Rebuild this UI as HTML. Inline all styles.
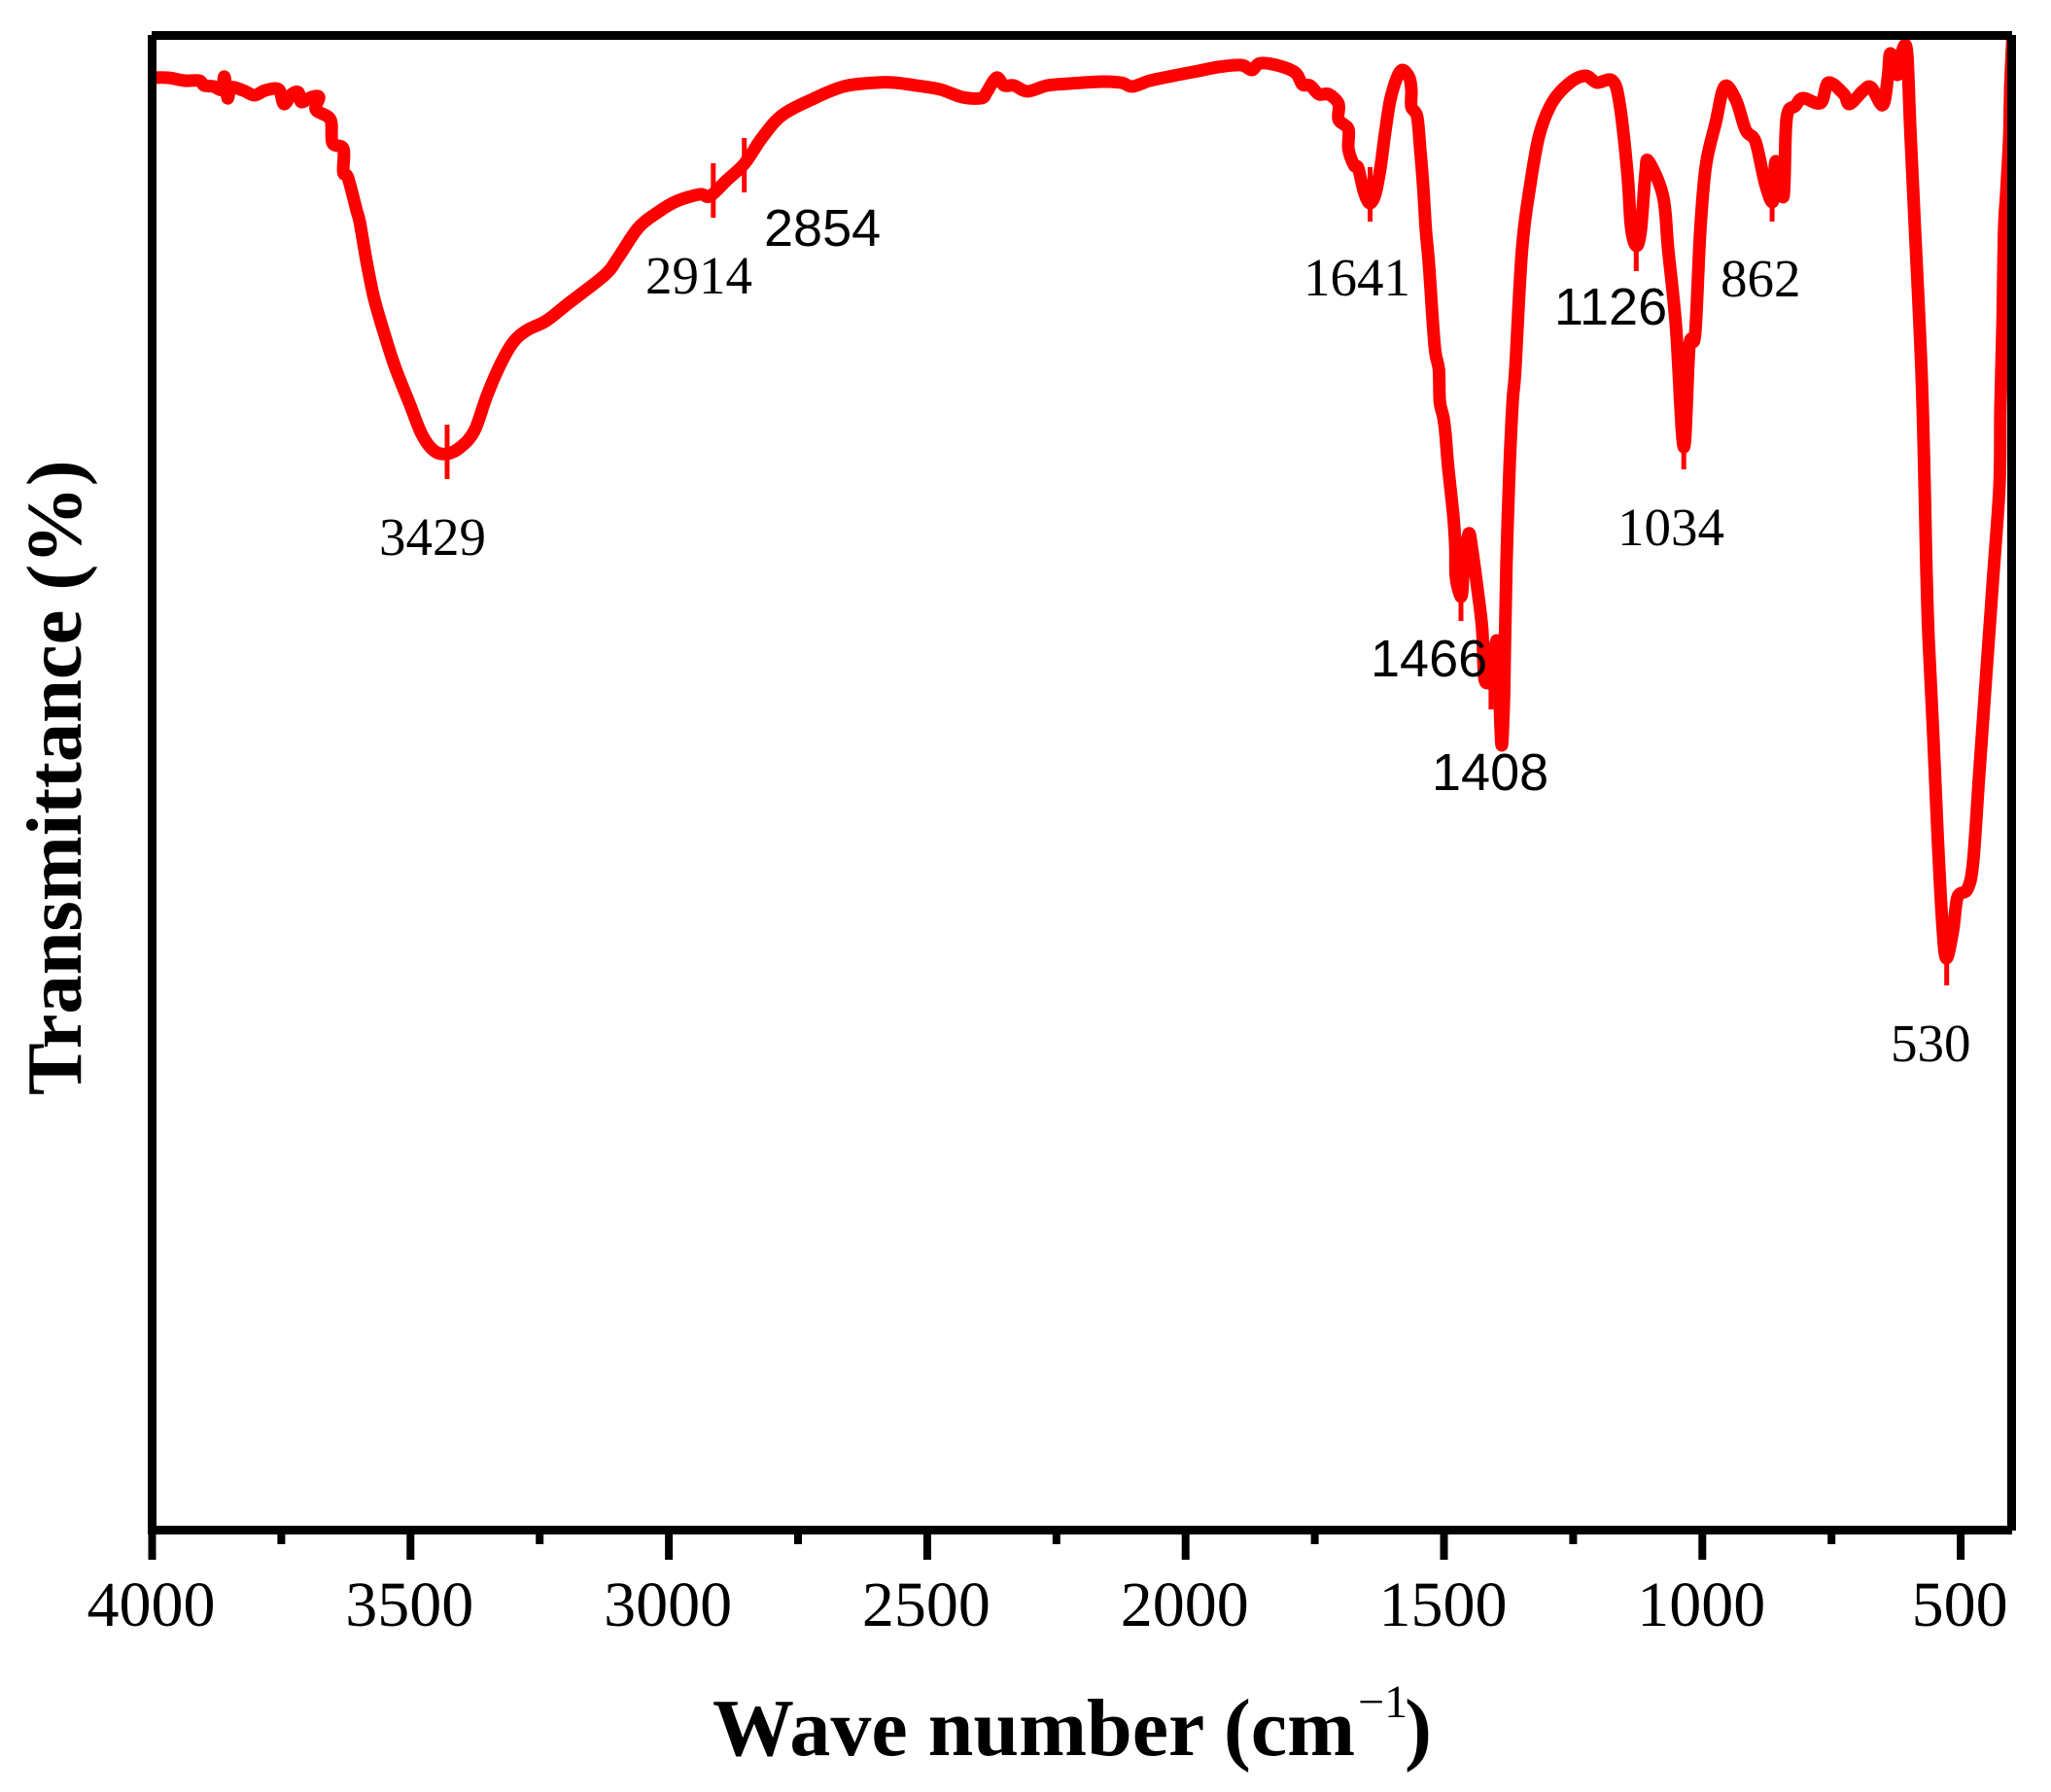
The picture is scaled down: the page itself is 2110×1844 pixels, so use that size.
<!DOCTYPE html>
<html lang="en">
<head>
<meta charset="utf-8">
<title>FTIR transmittance spectrum</title>
<style>
html,body{margin:0;padding:0;background:#fff;}
svg{display:block;}
.serif{font-family:"Liberation Serif",serif;}
.sans{font-family:"Liberation Sans",sans-serif;}
</style>
</head>
<body>
<svg id="chart" xmlns="http://www.w3.org/2000/svg" width="2110" height="1844" viewBox="0 0 2110 1844">
  <defs>
    <clipPath id="plot-clip"><rect x="156" y="36" width="1914" height="1539"/></clipPath>
  </defs>
  <rect x="0" y="0" width="2110" height="1844" fill="#fff"/>
  <g id="series-layer" clip-path="url(#plot-clip)"></g>
  <g id="frame" fill="#000">
    <rect x="156" y="32" width="1914" height="9"/>
    <rect x="152" y="36" width="9" height="1543"/>
    <rect x="2065" y="36" width="9" height="1539"/>
    <rect x="156" y="1570" width="1914" height="9"/>
  </g>
  <g id="tick-layer"></g>
  <g fill="#000" font-size="55">
    <text class="serif" x="390" y="571">3429</text>
    <text class="serif" x="664" y="302">2914</text>
    <text class="sans" x="786" y="253" font-size="54">2854</text>
    <text class="serif" x="1341" y="304">1641</text>
    <text class="sans" x="1599" y="334" font-size="54">1126</text>
    <text class="serif" x="1770" y="305">862</text>
    <text class="serif" x="1664" y="561">1034</text>
    <text class="sans" x="1410" y="696" font-size="54">1466</text>
    <text class="sans" x="1473" y="813" font-size="54">1408</text>
    <text class="serif" x="1945" y="1092">530</text>
  </g>
  <text class="serif" x="733" y="1806" font-size="84" font-weight="bold" fill="#000">Wave number (cm</text>
  <text class="serif" x="1397" y="1767" font-size="48" fill="#000">−1</text>
  <text class="serif" x="1445" y="1806" font-size="84" font-weight="bold" fill="#000">)</text>
  <text class="serif" transform="translate(83 1127) rotate(-90)" x="0" y="0" font-size="80.5" font-weight="bold" fill="#000">Transmittance (%)</text>
</svg>
<script>
// Wavenumbers (cm-1) along the measured spectrum
const waveNumbers = [
4000,3969,3937,3909,3899,3881,3865,3860,3854,3847,3824,3802,3781,3755,3745,3730,3717,3711,3692,3677,3683,3655,3651,3630,3630,3621,3604,3598,3585,3570,3548,3529,3502,3478,3454,3429,3403,3376,3352,3326,3301,3275,3237,3194,3124,3098,3060,3023,2985,2940,2921,2889,2853,2820,2782,2726,2662,2598,2564,2521,2475,2432,2395,2385,2366,2351,2332,2306,2268,2225,2163,2125,2103,2069,2024,1975,1937,1892,1872,1855,1817,1787,1774,1759,1742,1723,1704,1704,1685,1685,
1674,1666,1655,1644,1633,1623,1614,1604,1591,1580,1567,1563,1563,1552,1546,1540,1535,1529,1518,1510,1508,1501,1497,1492,1482,1478,1477,1469,1465,1461,1452,1445,1435,1426,1422,1413,1407,1401,1396,1392,1388,1384,1382,1379,1373,1367,1362,1349,
1333,1315,1290,1256,1226,1204,1174,1160,1145,1138,1128,1119,1110,1104,1076,1066,1051,1036,1025,1014,1004,993,974,957,935,916,897,878,863,858,843,837,820,805,771,756,726,715,688,673,651,641,636,622,613,604,598,590,575,566,562,553,545,536,528,515,506,487,476,464,451,438,425,423,419,416,412,406,404,400
];
// Transmittance read at each wavenumber (arbitrary-scale percent units)
const transmittance = [
149.5,149.5,149.2,149.2,148.7,148.6,148.3,149.6,147.4,148.5,148.2,147.7,148.2,148.3,146.8,147.8,148,147,147.5,147.5,146.2,145.2,142.8,142.2,139.8,139.2,135.8,134.6,130.6,126.7,122.7,119.6,116,112.8,111.1,110.8,111.5,113.2,116.8,120,122.3,123.5,124.5,126.3,129.2,131,134,135.6,136.8,137.5,137.3,138.9,140.7,143.3,145.6,147.2,148.6,149,149,148.7,148.3,147.5,147.4,148,149.5,148.7,148.7,148.1,148.7,148.9,149.1,149,148.6,149.2,149.7,150.2,150.6,150.8,150.3,151,150.7,150,148.8,148.7,147.8,147.8,146.8,145.2,144.2,142.2,
140.5,140.2,137.8,136.6,137.5,140.2,143.8,147.2,149.5,150.3,149.5,148.2,146.5,145.5,142.2,138.2,133.8,130.2,121.9,119.5,116.2,114.5,112.8,109.5,104.5,101.2,98.2,96.3,96.5,99.5,102.6,100.8,96.8,92.8,87.8,87.3,87.5,91,91,85,80.8,85.5,91.2,99.5,109.5,116.2,119.5,131.8,
138.5,143.7,147,149,149.7,149,149.2,146.8,139.7,134.2,132.2,133.8,139.7,140.9,137.3,131.8,123.9,111.5,121.9,123.1,133.8,140.5,144.9,148.6,147.2,144.1,142.9,138.5,136.8,140.9,137.3,145.3,146.6,147.4,146.9,149,147.8,146.8,148.2,148.5,146.7,149.5,152,149.8,152.3,152.2,144.8,135.5,118,98.2,91.7,81.8,71.9,62.8,58.9,61.7,65.2,66,68.8,77.9,87.7,97.6,107.5,115.6,124.5,133.8,137.5,143.5,148.5,153.4
];
// Marked absorption peaks
const peakWaves = [3429,2914,2854,1643,1467,1409,1128,1036,865,527];
const peakLevels = [111,137.9,140.5,137.5,96.4,87.3,132.4,112,137.5,58.9];
// X axis ticks
const majorTicks = [4000,3500,3000,2500,2000,1500,1000,500];
const majorTickLabels = ["4000","3500","3000","2500","2000","1500","1000","500"];
const minorTicks = [3750,3250,2750,2250,1750,1250,750];

const NS = 'http://www.w3.org/2000/svg';
function xScale(w){ return 156.5 + (4000 - w) * 0.5316; }
function yScale(t){ return 1575 - t * 10; }

const seriesLayer = document.getElementById('series-layer');
const tickLayer = document.getElementById('tick-layer');

// Spectrum line, smoothed through the data points
const pts = waveNumbers.map(function (w, i) { return [xScale(w), yScale(transmittance[i])]; });
let d = 'M' + pts[0][0].toFixed(1) + ' ' + pts[0][1].toFixed(1);
for (let i = 0; i < pts.length - 1; i++) {
  const p0 = pts[Math.max(i - 1, 0)];
  const p1 = pts[i];
  const p2 = pts[i + 1];
  const p3 = pts[Math.min(i + 2, pts.length - 1)];
  const c1x = p1[0] + (p2[0] - p0[0]) / 6;
  const c1y = p1[1] + (p2[1] - p0[1]) / 6;
  const c2x = p2[0] - (p3[0] - p1[0]) / 6;
  const c2y = p2[1] - (p3[1] - p1[1]) / 6;
  d += 'C' + c1x.toFixed(1) + ' ' + c1y.toFixed(1) + ' ' + c2x.toFixed(1) + ' ' + c2y.toFixed(1) + ' ' + p2[0].toFixed(1) + ' ' + p2[1].toFixed(1);
}
const line = document.createElementNS(NS, 'path');


line.setAttribute('d', d);
line.setAttribute('fill', 'none');
line.setAttribute('stroke', '#ff0000');
line.setAttribute('stroke-width', '13');
line.setAttribute('stroke-linejoin', 'round');
line.setAttribute('stroke-linecap', 'butt');
seriesLayer.appendChild(line);

// Peak tick markers
peakWaves.forEach(function (w, i) {
  const m = document.createElementNS(NS, 'rect');
  
  
  m.setAttribute('x', (xScale(w) - 2.5).toFixed(1));
  m.setAttribute('y', (yScale(peakLevels[i]) - 28).toFixed(1));
  m.setAttribute('width', '5');
  m.setAttribute('height', '56');
  m.setAttribute('fill', '#ff0000');
  seriesLayer.appendChild(m);
});

// Major ticks and labels
majorTicks.forEach(function (w, i) {
  const t = document.createElementNS(NS, 'rect');
  
  
  t.setAttribute('x', (xScale(w) - 4).toFixed(1));
  t.setAttribute('y', '1575');
  t.setAttribute('width', '8');
  t.setAttribute('height', '30');
  t.setAttribute('fill', '#000');
  tickLayer.appendChild(t);
  const label = document.createElementNS(NS, 'text');
  
  
  label.setAttribute('class', 'serif');
  label.setAttribute('x', (xScale(w) - 1).toFixed(1));
  label.setAttribute('y', '1673');
  label.setAttribute('text-anchor', 'middle');
  label.setAttribute('font-size', '66');
  label.setAttribute('fill', '#000');
  label.textContent = majorTickLabels[i];
  tickLayer.appendChild(label);
});

// Minor ticks
minorTicks.forEach(function (w) {
  const t = document.createElementNS(NS, 'rect');
  
  
  t.setAttribute('x', (xScale(w) - 4).toFixed(1));
  t.setAttribute('y', '1575');
  t.setAttribute('width', '8');
  t.setAttribute('height', '14');
  t.setAttribute('fill', '#000');
  tickLayer.appendChild(t);
});
</script>
</body>
</html>
